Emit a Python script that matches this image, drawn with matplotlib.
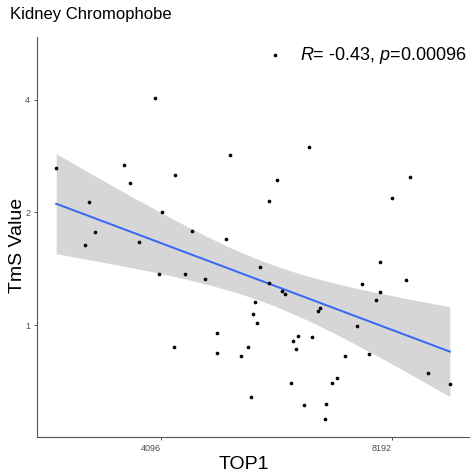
import numpy as np
import matplotlib
matplotlib.use("Agg")
import matplotlib.pyplot as plt
from matplotlib.ticker import NullLocator

plt.rcParams['font.family'] = ['Liberation Sans', 'DejaVu Sans']
plt.rcParams['mathtext.fontset'] = 'custom'
plt.rcParams['mathtext.rm'] = 'Liberation Sans'
plt.rcParams['mathtext.it'] = 'Liberation Sans:italic'

# ---- data ----
title = "Kidney Chromophobe"
x_label = "TOP1"
y_label = "TmS Value"
stat_label = r"$\it{R}$= -0.43, $\it{p}$=0.00096"

top1 = [4019, 2986, 3659, 4272, 3729, 3291, 4101, 5762, 5029, 6394,
        5797, 5664, 8639, 8202, 3360, 3255, 3827, 4064, 4255, 4488,
        4973, 4394, 4674, 5503, 5664, 5889, 5943, 5431, 5389, 5464,
        6555, 6608, 4837, 4841, 5198, 5313, 6087, 6179, 6438, 6131,
        6051, 5356, 6285, 6728, 6704, 7903, 8544, 7480, 7913, 7818,
        7369, 7123, 7655, 9119, 9750, 6939, 6850]
tms = [4.035, 2.628, 2.676, 2.522, 2.401, 2.137, 2.002, 5.260, 2.846, 2.994,
       2.441, 2.150, 2.481, 2.187, 1.768, 1.636, 1.663, 1.367, 0.874, 1.779,
       1.701, 1.369, 1.326, 1.433, 1.299, 1.234, 1.214, 1.153, 1.070, 1.010,
       1.092, 1.112, 0.950, 0.841, 0.829, 0.874, 0.908, 0.936, 0.931, 0.865,
       0.698, 0.643, 0.611, 0.614, 0.560, 1.471, 1.320, 1.285, 1.226, 1.165,
       0.992, 0.829, 0.837, 0.746, 0.697, 0.723, 0.698]

x_ticks = [4096, 8192]
y_ticks = [1, 2, 4]
stat_pos = (6208, 5.26)

# ---- linear fit on log2 scales, 95% band ----
lx = np.log2(np.array(top1, dtype=float))
ly = np.log2(np.array(tms, dtype=float))
n = len(lx)
slope, intercept = np.polyfit(lx, ly, 1)
resid = ly - (slope * lx + intercept)
s = np.sqrt(np.sum(resid ** 2) / (n - 2))
sxx = np.sum((lx - lx.mean()) ** 2)
t_crit = 2.004
gx = np.linspace(lx.min(), lx.max(), 80)
gy = slope * gx + intercept
se = s * np.sqrt(1.0 / n + (gx - lx.mean()) ** 2 / sxx)

# ---- plot ----
fig = plt.figure(figsize=(4.73, 4.76), dpi=100)
ax = fig.add_axes([0.0772, 0.0809, 0.9154, 0.8414])

ax.fill_between(2 ** gx, 2 ** (gy - t_crit * se), 2 ** (gy + t_crit * se),
                color='#D6D6D6', lw=0, zorder=1)
ax.plot(2 ** gx, 2 ** gy, color='#3366FF', lw=1.4, zorder=2)
ax.scatter(top1, tms, s=7, color='black', lw=0, zorder=3)

ax.set_xscale('log', base=2)
ax.set_yscale('log', base=2)
pad_x = 0.05 * (lx.max() - lx.min())
pad_y = 0.05 * (ly.max() - ly.min())
ax.set_xlim(2 ** (lx.min() - pad_x), 2 ** (lx.max() + pad_x))
ax.set_ylim(2 ** (ly.min() - pad_y), 2 ** (ly.max() + pad_y))

ax.set_xticks(x_ticks)
ax.set_xticklabels([str(v) for v in x_ticks], ha='right')
ax.set_yticks(y_ticks)
ax.set_yticklabels([str(v) for v in y_ticks])
ax.xaxis.set_minor_locator(NullLocator())
ax.yaxis.set_minor_locator(NullLocator())
ax.tick_params(axis='both', length=2.5, width=0.6, color='#333333',
               labelsize=6.5, labelcolor='#4D4D4D', pad=2)

for side in ['top', 'right']:
    ax.spines[side].set_visible(False)
for side in ['left', 'bottom']:
    ax.spines[side].set_color('#555555')
    ax.spines[side].set_linewidth(0.8)

ax.set_xlabel(x_label, fontsize=14)
ax.xaxis.set_label_coords(0.48, -0.045, transform=ax.transAxes)
ax.xaxis.label.set_va('top')
ax.set_ylabel(y_label, fontsize=14)
ax.yaxis.set_label_coords(-0.045, 0.48, transform=ax.transAxes)
ax.yaxis.label.set_va('center')

ax.text(stat_pos[0], stat_pos[1], stat_label, fontsize=13, ha='left', va='center')
fig.text(10 / 473, 1 - 15 / 476, title, fontsize=12, ha='left', va='center')

fig.savefig("out.png", dpi=100)
